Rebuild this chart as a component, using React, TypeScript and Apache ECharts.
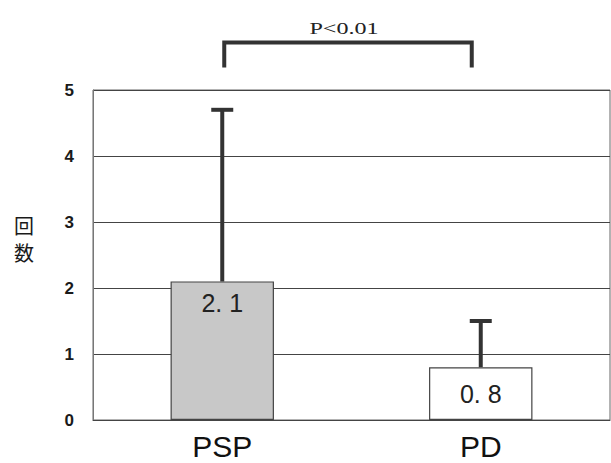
import React, { useEffect, useRef } from "react";
import * as echarts from "echarts";

const categories = ["PSP", "PD"];
const means = [2.1, 0.8];
const errorTops = [4.7, 1.5];
const barLabels = ["2. 1", "0. 8"];
const yTicks = [0, 1, 2, 3, 4, 5];
const pValueText = "P<0.01";
const yAxisTitleChars = ["回", "数"];

const BRACKET_TOP = 5.72;
const BRACKET_LEG = 5.34;

export default function App() {
  const ref = useRef<HTMLDivElement>(null);
  useEffect(() => {
    if (!ref.current) return;
    const chart = echarts.init(ref.current, undefined, { renderer: "svg" });
    const sans = "'Liberation Sans', Arial, sans-serif";
    chart.setOption({
      animation: false,
      backgroundColor: "#ffffff",
      grid: {
        left: 93,
        right: 1,
        top: 90,
        bottom: 43,
        show: true,
        borderColor: "#666",
        borderWidth: 1,
      },
      xAxis: {
        type: "category",
        data: categories,
        axisTick: { show: false },
        axisLine: { show: true, lineStyle: { color: "#444", width: 1 } },
        axisLabel: {
          color: "#111",
          fontFamily: sans,
          fontSize: 30,
          margin: 11,
          lineHeight: 30,
        },
      },
      yAxis: {
        type: "value",
        min: yTicks[0],
        max: yTicks[yTicks.length - 1],
        interval: 1,
        axisLine: { show: true, lineStyle: { color: "#777", width: 1 } },
        axisTick: { show: false },
        axisLabel: {
          color: "#1a1a1a",
          fontFamily: sans,
          fontSize: 17,
          fontWeight: 600,
          margin: 19,
        },
        splitLine: { show: true, lineStyle: { color: "#444", width: 1 } },
      },
      graphic: yAxisTitleChars.map((ch, i) => ({
        type: "text",
        x: 24,
        y: 225 + i * 27,
        style: {
          text: ch,
          font: "400 20px 'Noto Sans CJK JP', sans-serif",
          lineHeight: 20,
          fill: "#1a1a1a",
          align: "center",
          verticalAlign: "middle",
        },
      })),
      series: [
        {
          type: "bar",
          barWidth: "40%",
          data: means.map((v, i) => ({
            value: v,
            itemStyle: {
              color: i === 0 ? "#c8c8c8" : "#ffffff",
              borderColor: "#444",
              borderWidth: 1.2,
            },
            label: {
              show: true,
              formatter: barLabels[i],
              position: i === 0 ? "insideTop" : "inside",
              distance: 9,
              color: "#222",
              fontFamily: sans,
              fontSize: 25,
            },
          })),
          z: 2,
        },
        {
          type: "custom",
          z: 3,
          data: categories.map((c, i) => [i, means[i], errorTops[i]]),
          encode: { x: 0, y: [1, 2] },
          renderItem: (params: any, api: any) => {
            const x = api.value(0);
            const p1 = api.coord([x, api.value(1)]);
            const p2 = api.coord([x, api.value(2)]);
            const cap = 11;
            return {
              type: "group",
              children: [
                {
                  type: "line",
                  shape: { x1: p1[0], y1: p1[1], x2: p2[0], y2: p2[1] },
                  style: { stroke: "#333", lineWidth: 4 },
                },
                {
                  type: "line",
                  shape: { x1: p2[0] - cap, y1: p2[1], x2: p2[0] + cap, y2: p2[1] },
                  style: { stroke: "#333", lineWidth: 4 },
                },
              ],
            };
          },
        },
        {
          type: "custom",
          z: 3,
          data: [[0, 1]],
          encode: { x: [0, 1] },
          renderItem: (params: any, api: any) => {
            const a = api.coord([api.value(0), BRACKET_TOP]);
            const b = api.coord([api.value(1), BRACKET_TOP]);
            const leg = api.coord([api.value(0), BRACKET_LEG]);
            const xl = a[0] + 2;
            const xr = b[0] - 9;
            const yt = a[1];
            const yb = leg[1];
            return {
              type: "group",
              children: [
                {
                  type: "polyline",
                  shape: { points: [[xl, yb], [xl, yt], [xr, yt], [xr, yb]] },
                  style: { stroke: "#333", lineWidth: 4, fill: "none" },
                },
                {
                  type: "text",
                  x: (xl + xr) / 2 - 4,
                  y: yt - 14,
                  scaleX: 1.42,
                  style: {
                    text: pValueText,
                    font: "17px 'Liberation Serif', 'Times New Roman', serif",
                    fill: "#222",
                    align: "center",
                    verticalAlign: "middle",
                  },
                },
              ],
            };
          },
        },
      ],
    });
    return () => chart.dispose();
  }, []);
  return <div ref={ref} style={{ width: 611, height: 463, position: "absolute", left: 0, top: 0 }} />;
}
